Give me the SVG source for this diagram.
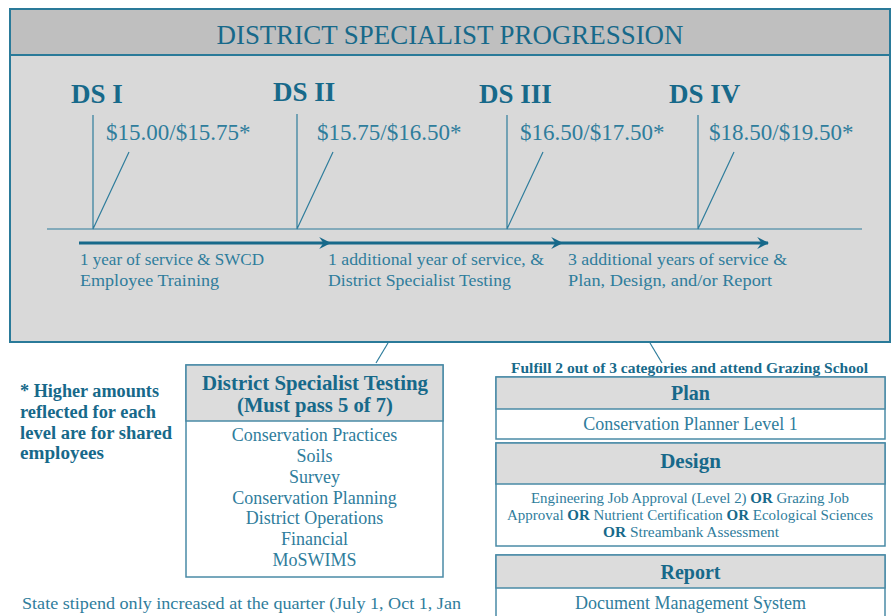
<svg xmlns="http://www.w3.org/2000/svg" width="891" height="616" viewBox="0 0 891 616">
<defs>
<style>
text{font-family:"Liberation Serif","Times New Roman",serif;}
.ds{font-weight:bold;font-size:27px;fill:#17698a;}
.price{font-size:23px;fill:#2f7d9c;}
.step{font-size:17.5px;fill:#2f7d9c;}
.hdr{font-weight:bold;fill:#17698a;text-anchor:middle;}
.item{font-size:18px;fill:#2f7d9c;text-anchor:middle;}
.small{font-size:14px;fill:#2f7d9c;text-anchor:middle;}
.b{font-weight:bold;fill:#17698a;}
.thin{stroke:#2f7d9c;stroke-width:1.2;fill:none;}
.arrow{stroke:#17698a;stroke-width:3;fill:none;marker-end:url(#ah);}
.boxh{fill:#dcdcdc;stroke:#4a8ba6;stroke-width:1.5;}
.boxb{fill:#ffffff;stroke:#4a8ba6;stroke-width:1.5;}
</style>
<marker id="ah" viewBox="0 0 10 10" refX="9" refY="5" markerWidth="4" markerHeight="4" orient="auto" markerUnits="strokeWidth">
<path d="M0,0 L10,5 L0,10 L3.5,5 z" fill="#17698a"/>
</marker>
</defs>
<rect width="891" height="616" fill="#ffffff"/>
<g id="panel">
<rect x="10" y="9" width="880" height="333" fill="#d9d9d9" stroke="#2a7a99" stroke-width="2"/>
<rect x="10" y="9" width="880" height="46" fill="#bfbfbf" stroke="#2a7a99" stroke-width="2"/>
<text x="450" y="44" text-anchor="middle" font-size="28" fill="#17698a" textLength="467" lengthAdjust="spacingAndGlyphs">DISTRICT SPECIALIST PROGRESSION</text>
</g>
<g id="ds1">
<text class="ds" x="71" y="103">DS I</text>
<text class="price" x="106" y="140">$15.00/$15.75*</text>
</g>
<g id="ds2">
<text class="ds" x="273" y="101">DS II</text>
<text class="price" x="317" y="140">$15.75/$16.50*</text>
</g>
<g id="ds3">
<text class="ds" x="479" y="103">DS III</text>
<text class="price" x="520" y="140">$16.50/$17.50*</text>
</g>
<g id="ds4">
<text class="ds" x="669" y="103">DS IV</text>
<text class="price" x="709" y="140">$18.50/$19.50*</text>
</g>
<g id="connectors">
<line class="thin" x1="47" y1="229" x2="862" y2="229"/>
<path class="thin" d="M93,115 V229 L129,152"/>
<path class="thin" d="M297,114 V229 L333,152"/>
<path class="thin" d="M507,115 V229 L543,152"/>
<path class="thin" d="M698,115 V229 L734,152"/>
<line class="arrow" x1="79" y1="243" x2="330" y2="243"/>
<line class="arrow" x1="330" y1="243" x2="562" y2="243"/>
<line class="arrow" x1="562" y1="243" x2="768" y2="243"/>
<line class="thin" x1="388" y1="343" x2="376" y2="363"/>
<line class="thin" x1="650" y1="343" x2="662" y2="363"/>
</g>
<g id="step1">
<text class="step" x="80" y="265" textLength="184" lengthAdjust="spacingAndGlyphs">1 year of service &amp; SWCD</text>
<text class="step" x="80" y="286" textLength="139" lengthAdjust="spacingAndGlyphs">Employee Training</text>
</g>
<g id="step2">
<text class="step" x="328" y="265" textLength="216" lengthAdjust="spacingAndGlyphs">1 additional year of service, &amp;</text>
<text class="step" x="328" y="286" textLength="183" lengthAdjust="spacingAndGlyphs">District Specialist Testing</text>
</g>
<g id="step3">
<text class="step" x="568" y="265" textLength="219" lengthAdjust="spacingAndGlyphs">3 additional years of service &amp;</text>
<text class="step" x="568" y="286" textLength="204" lengthAdjust="spacingAndGlyphs">Plan, Design, and/or Report</text>
</g>
<g id="note">
<text class="b" font-size="18.5" x="20" y="397" textLength="139" lengthAdjust="spacingAndGlyphs">* Higher amounts</text>
<text class="b" font-size="18.5" x="20" y="418" textLength="136" lengthAdjust="spacingAndGlyphs">reflected for each</text>
<text class="b" font-size="18.5" x="20" y="439" textLength="152" lengthAdjust="spacingAndGlyphs">level are for shared</text>
<text class="b" font-size="18.5" x="20" y="459" textLength="84" lengthAdjust="spacingAndGlyphs">employees</text>
</g>
<g id="testing">
<rect class="boxb" x="186" y="365" width="257" height="212"/>
<rect class="boxh" x="186" y="365" width="257" height="56"/>
<text class="hdr" font-size="20" x="315" y="390" textLength="226" lengthAdjust="spacingAndGlyphs">District Specialist Testing</text>
<text class="hdr" font-size="20" x="315" y="412" textLength="156" lengthAdjust="spacingAndGlyphs">(Must pass 5 of 7)</text>
<text class="item" x="314.5" y="441">Conservation Practices</text>
<text class="item" x="314.5" y="462">Soils</text>
<text class="item" x="314.5" y="483">Survey</text>
<text class="item" x="314.5" y="504">Conservation Planning</text>
<text class="item" x="314.5" y="524">District Operations</text>
<text class="item" x="314.5" y="545">Financial</text>
<text class="item" x="314.5" y="566">MoSWIMS</text>
</g>
<g id="fulfill">
<text class="hdr" font-size="14" x="689.5" y="373" textLength="357" lengthAdjust="spacingAndGlyphs">Fulfill 2 out of 3 categories and attend Grazing School</text>
</g>
<g id="plan">
<rect class="boxb" x="496" y="377" width="389" height="62"/>
<rect class="boxh" x="496" y="377" width="389" height="32"/>
<text class="hdr" font-size="20" x="690.5" y="400">Plan</text>
<text class="item" x="690.5" y="430">Conservation Planner Level 1</text>
</g>
<g id="design">
<rect class="boxb" x="496" y="443" width="389" height="103"/>
<rect class="boxh" x="496" y="443" width="389" height="41"/>
<text class="hdr" font-size="21" x="690.5" y="468">Design</text>
<text class="small" x="690" y="503" textLength="318" lengthAdjust="spacingAndGlyphs">Engineering Job Approval (Level 2) <tspan class="b">OR</tspan> Grazing Job</text>
<text class="small" x="690" y="520" textLength="366" lengthAdjust="spacingAndGlyphs">Approval  <tspan class="b">OR</tspan> Nutrient Certification <tspan class="b">OR</tspan> Ecological Sciences</text>
<text class="small" x="691" y="537" textLength="176" lengthAdjust="spacingAndGlyphs"><tspan class="b">OR</tspan> Streambank Assessment</text>
</g>
<g id="report">
<rect class="boxb" x="496" y="555" width="389" height="70"/>
<rect class="boxh" x="496" y="555" width="389" height="33"/>
<text class="hdr" font-size="20" x="690.5" y="579">Report</text>
<text class="item" x="690.5" y="609">Document Management System</text>
</g>
<g id="footer">
<text class="step" font-size="18" x="22" y="609" textLength="439" lengthAdjust="spacingAndGlyphs">State stipend only increased at the quarter (July 1, Oct 1, Jan</text>
</g>
</svg>
